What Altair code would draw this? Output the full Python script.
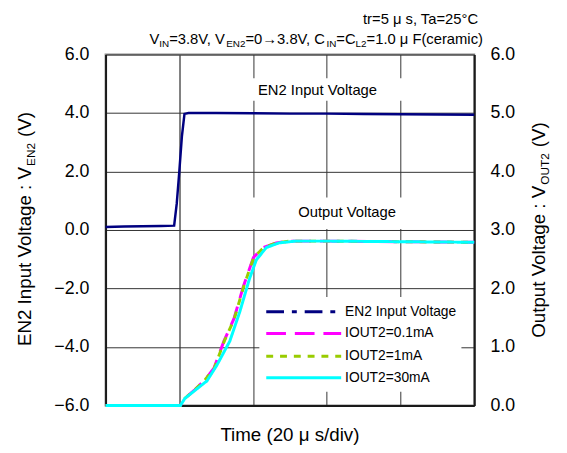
import altair as alt
import pandas as pd

# ---------------- data ----------------
# EN2 input voltage, left axis (V) vs time (us)
en2_time = [0, 5, 10, 15, 18.6, 19.3, 20.0, 20.7, 21.4, 22.5, 30, 40, 50, 60, 70, 80, 90, 100]
en2_volt = [0.10, 0.12, 0.13, 0.14, 0.15, 0.9, 2.0, 3.2, 3.97, 4.00, 4.00, 3.99, 3.98, 3.98, 3.97, 3.96, 3.95, 3.94]

# Output voltage, right axis (V) vs time (us)
t_01 = [0, 20.3, 21.5, 24.1, 27.0, 29.4, 32.1, 34.8, 37.4, 40.1, 42.8, 46.3, 50, 60, 80, 100]
v_01 = [0, 0, 0.12, 0.26, 0.44, 0.64, 1.10, 1.48, 2.04, 2.53, 2.70, 2.78, 2.81, 2.81, 2.80, 2.79]
t_1 = [0, 20.3, 21.5, 24.1, 27.0, 29.5, 32.2, 34.9, 37.5, 40.2, 42.9, 46.4, 50, 60, 80, 100]
v_1 = [0, 0, 0.12, 0.26, 0.44, 0.64, 1.10, 1.48, 2.04, 2.53, 2.70, 2.78, 2.81, 2.81, 2.80, 2.79]
t_30 = [0, 20.3, 21.5, 24.1, 27.5, 30.2, 33.7, 36.4, 39.0, 40.9, 43.6, 47.1, 51.6, 60, 80, 100]
v_30 = [0, 0, 0.12, 0.25, 0.42, 0.69, 1.10, 1.60, 2.16, 2.49, 2.70, 2.78, 2.81, 2.81, 2.80, 2.79]

series_names = ["EN2 Input Voltage", "IOUT2=0.1mA", "IOUT2=1mA", "IOUT2=30mA"]
series_colors = ["#000080", "#ff00ff", "#99cc00", "#00ffff"]
series_dash = [[18, 8, 5, 8], [20, 9], [7, 7], [1, 0]]

left_ticks = [-6, -4, -2, 0, 2, 4, 6]
right_ticks = [0, 1, 2, 3, 4, 5, 6]
time_ticks = [0, 20, 40, 60, 80, 100]

en2_df = pd.DataFrame({"time": en2_time, "volt": en2_volt})
out_df = pd.concat([
    pd.DataFrame({"time": t_01, "volt": v_01, "series": series_names[1]}),
    pd.DataFrame({"time": t_1, "volt": v_1, "series": series_names[2]}),
    pd.DataFrame({"time": t_30, "volt": v_30, "series": series_names[3]}),
], ignore_index=True)

FONT = "Liberation Sans"
W_PLOT, H_PLOT = 374, 356
OX, OY = 107, 52  # plot origin on page

# Arial / Liberation Sans advance widths (1/1000 em)
AW = {" ": 278, "(": 333, ")": 333, ",": 278, ".": 278, "/": 278, ":": 278, "=": 584,
      "A": 667, "C": 722, "E": 667, "F": 611, "I": 278, "L": 556, "N": 722, "O": 778,
      "T": 611, "U": 722, "V": 667, "a": 556, "c": 500, "e": 556, "g": 556, "i": 222,
      "l": 222, "m": 833, "n": 556, "o": 556, "p": 556, "r": 333, "s": 500, "t": 278,
      "u": 556, "μ": 576, "°": 400, "→": 1000}


def tw(s, size):
    return sum(AW.get(c, 556) for c in s) / 1000.0 * size


one = pd.DataFrame({"k": [0]})


def text_piece(txt, x, y, size, align="left", angle=0, baseline="alphabetic"):
    return alt.Chart(one).mark_text(
        text=txt, font=FONT, fontSize=size, align=align, baseline=baseline,
        angle=angle, color="black"
    ).encode(x=alt.value(x), y=alt.value(y))


# segments: (text, font size, baseline shift, gap before)
def horiz_line(segments, right_x, base_y):
    total = sum(tw(s, sz) + g for s, sz, sh, g in segments)
    x = right_x - total
    out = []
    for s, sz, sh, g in segments:
        x += g
        out.append(text_piece(s, x - OX, base_y + sh - OY, sz))
        x += tw(s, sz)
    return out


def vert_title(segments, base_x, center_y):
    total = sum(tw(s, sz) + g for s, sz, sh, g in segments)
    y = center_y + total / 2
    out = []
    for s, sz, sh, g in segments:
        y -= g
        out.append(text_piece(s, base_x + sh - OX, y - OY, sz, angle=270))
        y -= tw(s, sz)
    return out


# ---------------- encodings ----------------
x_enc = alt.X("time:Q", scale=alt.Scale(domain=[0, 100], nice=False, zero=False),
              axis=alt.Axis(values=time_ticks, labels=False, ticks=False, domain=True,
                            domainColor="#1a1a1a", domainWidth=2,
                            title=None, grid=True,
                            gridColor={"condition": {"test": "datum.value === 20", "value": "#808080"}, "value": "#333333"},
                            gridWidth={"condition": {"test": "datum.value === 20", "value": 2}, "value": 1}))

left = alt.Chart(en2_df).mark_line(color=series_colors[0], strokeWidth=2.5).encode(
    x=x_enc,
    y=alt.Y("volt:Q", scale=alt.Scale(domain=[-6, 6], nice=False),
            axis=alt.Axis(orient="left", values=left_ticks, format=".1f", labelFontSize=18,
                          labelFont=FONT, labelColor="black", labelPadding=17, ticks=False,
                          domain=True, domainColor="#1a1a1a", domainWidth=2,
                          title=None, grid=True, gridColor="#333333", gridWidth=1))
)

color_scale = alt.Scale(domain=series_names, range=series_colors)
dash_scale = alt.Scale(domain=series_names, range=series_dash)

y_right = alt.Y("volt:Q", scale=alt.Scale(domain=[0, 6], nice=False),
                axis=alt.Axis(orient="right", values=right_ticks, format=".1f", labelFontSize=18,
                              labelFont=FONT, labelColor="black", labelPadding=16, ticks=False,
                              domain=True, domainColor="#1a1a1a", domainWidth=2,
                              title=None, grid=False))

right_layers = []
for name in series_names[1:]:
    right_layers.append(
        alt.Chart(out_df).transform_filter(alt.datum.series == name).mark_line(strokeWidth=3).encode(
            x=x_enc,
            y=y_right,
            color=alt.Color("series:N", scale=color_scale, legend=None),
            strokeDash=alt.StrokeDash("series:N", scale=dash_scale, legend=None),
        )
    )
right = alt.layer(*right_layers)


def white_box(x1, x2, y1, y2):
    return alt.Chart(one).mark_rect(color="white").encode(
        x=alt.value(x1 - OX), x2=alt.value(x2 - OX), y=alt.value(y1 - OY), y2=alt.value(y2 - OY))


boxes = [white_box(252, 411, 76, 99), white_box(252, 411, 197, 229), white_box(263, 468, 298, 394)]

# legend entries (symbols use the same colour / dash scales as the traces)
legend_rows_y = [313, 335, 358, 380]
legend_layers = []
for name, ly in zip(series_names, legend_rows_y):
    legend_layers.append(
        alt.Chart(pd.DataFrame({"series": [name]})).mark_rule(strokeWidth=3).encode(
            x=alt.value(270 - OX), x2=alt.value(346 - OX), y=alt.value(ly - OY),
            color=alt.Color("series:N", scale=color_scale, legend=None),
            strokeDash=alt.StrokeDash("series:N", scale=dash_scale, legend=None),
        )
    )
    legend_layers.append(text_piece(name, 350 - OX, ly - OY, 14, baseline="middle"))

labels = [
    text_piece("EN2 Input Voltage", 322 - OX, 88 - OY, 15, align="center", baseline="middle"),
    text_piece("Output Voltage", 352 - OX, 212 - OY, 15, align="center", baseline="middle"),
    text_piece("Time (20 μ s/div)", 294 - OX, 438 - OY, 19, align="center", baseline="middle"),
]

top1 = horiz_line([("tr=5 μ s, Ta=25°C", 15, 0, 0)], 487, 21)
top2 = horiz_line([("V", 15, 0, 0), ("IN", 10, 3, 0), ("=3.8V, V", 15, 0, 0), ("EN2", 10, 3, 0),
                   ("=0→3.8V, C", 15, 0, 0), ("IN", 10, 3, 0), ("=C", 15, 0, 0), ("L2", 10, 3, 0),
                   ("=1.0 μ F(ceramic)", 15, 0, 0)], 490, 41)

ltitle = vert_title([("EN2 Input Voltage : V", 19, 0, 0), ("EN2", 12, 4, 0), ("(V)", 19, 0, 6)], 31, 229)
rtitle = vert_title([("Output Voltage : V", 19, 0, 0), ("OUT2", 12, 4, 0), ("(V)", 19, 0, 6)], 553, 230)

chart = alt.layer(left, right, *boxes, *legend_layers, *labels, *top1, *top2, *ltitle, *rtitle).resolve_scale(
    y="independent"
).properties(
    width=W_PLOT, height=H_PLOT,
    padding={"left": 99, "top": 44, "right": 86, "bottom": 44},
    autosize=alt.AutoSizeParams(type="none"),
    background="white",
).configure_view(stroke="#8a8a8a", strokeWidth=2)

chart.save("out.html", embed_options={"renderer": "svg", "actions": False})
